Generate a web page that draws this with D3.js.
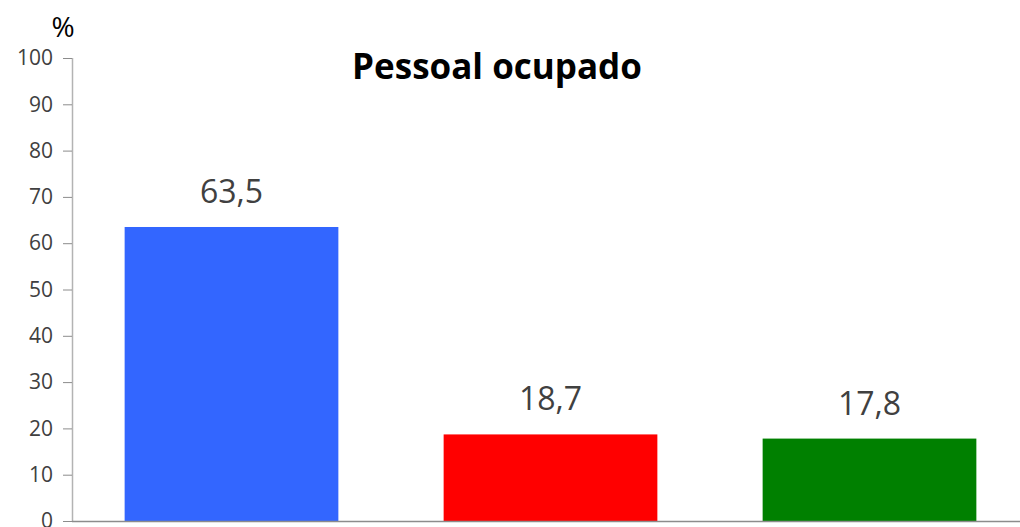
<!DOCTYPE html>
<html>
<head>
<meta charset="utf-8">
<script src="https://cdn.jsdelivr.net/npm/d3@7"></script>
<style>
  body { margin: 0; background: #fff; }
  svg { display: block; font-family: "Open Sans", "Noto Sans", sans-serif; }
  .y-axis text { font-size: 21px; fill: #404040; }
</style>
</head>
<body>
<div id="chart"></div>
<script>
// Chart data
const categories = ["A", "B", "C"];
const values = [63.5, 18.7, 17.8];
const valueLabels = ["63,5", "18,7", "17,8"];
const colors = ["#3366FF", "#FF0000", "#008000"];
const yTicks = [0, 10, 20, 30, 40, 50, 60, 70, 80, 90, 100];

const width = 1020, height = 527;
const margin = { top: 58, right: -9, bottom: 6, left: 72 };
const innerH = height - margin.top - margin.bottom;

const svg = d3.select("#chart")
    .append("svg")
    .attr("width", width)
    .attr("height", height);

const g = svg.append("g")
    .attr("transform", `translate(${margin.left},${margin.top})`);

// Scales
const x = d3.scaleBand()
    .domain(categories)
    .range([0, width - margin.left - margin.right])
    .paddingInner(0.33)
    .paddingOuter(0.165);

const y = d3.scaleLinear()
    .domain([0, 100])
    .range([innerH, 0]);

// Y axis
const yAxis = g.append("g")
    .attr("class", "y-axis")
    .call(d3.axisLeft(y).tickValues(yTicks).tickSize(9).tickPadding(10))
    .attr("font-family", null)
    .attr("font-size", 21);
yAxis.selectAll(".tick line").attr("stroke", "#8c8c8c");
yAxis.selectAll(".tick text")
    .attr("fill", "#404040")
    .attr("font-size", 21);
yAxis.select(".domain")
    .attr("stroke", "#b3b3b3")
    .attr("stroke-width", 1.5)
    .attr("d", `M0.5,0V${innerH}`);

// Bars
g.selectAll(".bar")
    .data(values)
    .join("rect")
    .attr("class", "bar")
    .attr("x", (d, i) => x(categories[i]))
    .attr("y", d => y(d))
    .attr("width", x.bandwidth())
    .attr("height", d => innerH - y(d))
    .attr("fill", (d, i) => colors[i]);

// X axis baseline
g.append("line")
    .attr("x1", 0)
    .attr("x2", width)
    .attr("y1", innerH + 0.5)
    .attr("y2", innerH + 0.5)
    .attr("stroke", "#8c8c8c")
    .attr("stroke-width", 1.5);

// Value labels
g.selectAll(".val")
    .data(values)
    .join("text")
    .attr("class", "val")
    .attr("x", (d, i) => x(categories[i]) + x.bandwidth() / 2)
    .attr("y", d => y(d) - 24)
    .attr("text-anchor", "middle")
    .attr("fill", "#404040")
    .style("font-size", "32px")
    .text((d, i) => valueLabels[i]);

// Title
svg.append("text")
    .attr("x", 497)
    .attr("y", 79)
    .attr("text-anchor", "middle")
    .attr("fill", "#000")
    .style("font-size", "35px")
    .style("font-weight", "bold")
    .text("Pessoal ocupado");

// Unit label
svg.append("text")
    .attr("x", 63)
    .attr("y", 37)
    .attr("text-anchor", "middle")
    .attr("fill", "#000")
    .style("font-size", "28px")
    .text("%");
</script>
</body>
</html>
